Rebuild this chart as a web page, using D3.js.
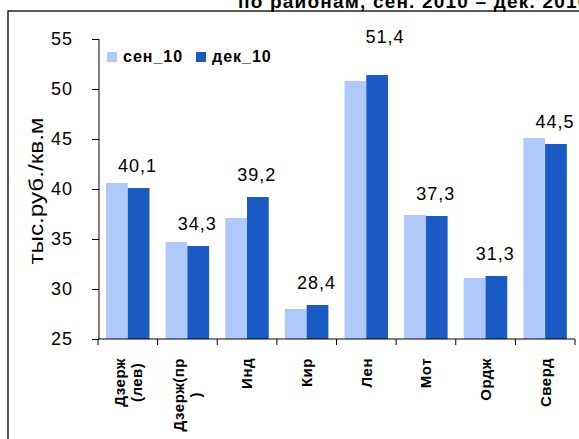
<!DOCTYPE html>
<html>
<head>
<meta charset="utf-8">
<script src="https://cdn.jsdelivr.net/npm/d3@7/dist/d3.min.js"></script>
<style>
  html, body { margin: 0; padding: 0; background: #fff; }
  svg { display: block; font-family: Arial, "Liberation Sans", sans-serif; }
</style>
</head>
<body>
<svg id="chart" width="579" height="439"></svg>
<script>
// ---- data ----
const categories = ["Дзерж\n(лев)", "Дзерж(пр\n)", "Инд", "Кир", "Лен", "Мот", "Ордж", "Сверд"];
const seriesNames = ["сен_10", "дек_10"];
const sep10 = [40.6, 34.7, 37.1, 28.0, 50.8, 37.4, 31.1, 45.1];
const dec10 = [40.1, 34.3, 39.2, 28.4, 51.4, 37.3, 31.3, 44.5];
const labelValues = ["40,1", "34,3", "39,2", "28,4", "51,4", "37,3", "31,3", "44,5"];
const yTicks = [25, 30, 35, 40, 45, 50, 55];
const yTitle = "тыс.руб./кв.м";
const titleText = "по районам, сен. 2010 – дек. 2010";

const colors = ["#afcafa", "#1a5ac4"];

const svg = d3.select("#chart");

// frame
svg.append("rect").attr("x", 8).attr("y", 11).attr("width", 620).attr("height", 480)
  .attr("fill", "none").attr("stroke", "#000").attr("stroke-width", 1.3);

// title (partially cut off at top, as in the source)
svg.append("text").attr("x", 238).attr("y", 8)
  .attr("font-size", 19).attr("font-weight", "bold").attr("letter-spacing", 1.2)
  .text(titleText);

const x0 = d3.scaleBand().domain(categories).range([98, 575]).padding(0);
const x1 = d3.scaleBand().domain(seriesNames).range([8, 51.5]).padding(0);
const y = d3.scaleLinear().domain([25, 55]).range([339, 39]);

const rows = categories.map((c, i) => ({ cat: c, vals: [sep10[i], dec10[i]], label: labelValues[i] }));

// bars
const g = svg.append("g");
rows.forEach(r => {
  r.vals.forEach((v, j) => {
    g.append("rect")
      .attr("x", x0(r.cat) + x1(seriesNames[j]))
      .attr("y", y(v))
      .attr("width", x1.bandwidth())
      .attr("height", y(25) - y(v))
      .attr("fill", colors[j]);
  });
});

// y axis
const yAxis = d3.axisLeft(y).tickValues(yTicks).tickSize(7).tickPadding(19).tickFormat(d3.format("d"));
const yg = svg.append("g").attr("transform", "translate(99,0)").call(yAxis);
yg.select(".domain").attr("stroke", "#000").attr("d", "M0,39V339");
yg.selectAll(".tick line").attr("stroke", "#000");
yg.selectAll(".tick text").attr("font-size", 18).attr("letter-spacing", 1)
  .attr("fill", "#000").attr("font-family", "Arial, 'Liberation Sans', sans-serif");

// x axis line + ticks at band edges
const xg = svg.append("g");
xg.append("line").attr("x1", 98).attr("x2", 575).attr("y1", 339).attr("y2", 339).attr("stroke", "#000");
const edges = categories.map(c => x0(c)).concat([x0.range()[1]]);
edges.forEach(ex => {
  xg.append("line").attr("x1", ex).attr("x2", ex).attr("y1", 339).attr("y2", 345).attr("stroke", "#000");
});

// category labels (rotated, multi-line centred)
categories.forEach(c => {
  const lines = c.split("\n");
  const cx = x0(c) + x0.bandwidth() / 2;
  const tmp = svg.append("g");
  const texts = lines.map(l => tmp.append("text").attr("font-size", 15).attr("font-weight", "bold")
      .attr("letter-spacing", 0.5).text(l));
  const maxLen = d3.max(texts, t => t.node().getComputedTextLength());
  tmp.remove();
  const centerY = 358 + maxLen / 2;
  const n = lines.length;
  const lineH = 17;
  const lg = svg.append("g").attr("transform", `translate(${cx},${centerY}) rotate(-90)`);
  lines.forEach((l, k) => {
    lg.append("text")
      .attr("x", 0)
      .attr("y", (k - (n - 1) / 2) * lineH)
      .attr("dy", "0.36em")
      .attr("text-anchor", "middle")
      .attr("font-size", 15).attr("font-weight", "bold").attr("letter-spacing", 0.5)
      .text(l);
  });
});

// value labels over the dec_10 bar
const labelNudge = { "Лен": [9, -16] };
rows.forEach(r => {
  const nd = labelNudge[r.cat] || [0, 0];
  const bx = x0(r.cat) + x1(seriesNames[1]) + x1.bandwidth() / 2 - 1;
  svg.append("text")
    .attr("x", bx + nd[0])
    .attr("y", y(r.vals[1]) - 16 + nd[1])
    .attr("text-anchor", "middle")
    .attr("font-size", 18).attr("letter-spacing", 1)
    .text(r.label);
});

// legend
const legend = svg.append("g");
const legendX = [107, 196];
seriesNames.forEach((s, j) => {
  legend.append("rect").attr("x", legendX[j]).attr("y", 52).attr("width", 10).attr("height", 10).attr("fill", colors[j]);
  legend.append("text").attr("x", legendX[j] + 16).attr("y", 61.5)
    .attr("font-size", 16).attr("font-weight", "bold").attr("letter-spacing", 1)
    .text(s);
});

// y title
svg.append("text")
  .attr("transform", "translate(43,191) rotate(-90)")
  .attr("text-anchor", "middle")
  .attr("font-size", 20)
  .attr("textLength", 147).attr("lengthAdjust", "spacingAndGlyphs")
  .text(yTitle);
</script>
</body>
</html>
